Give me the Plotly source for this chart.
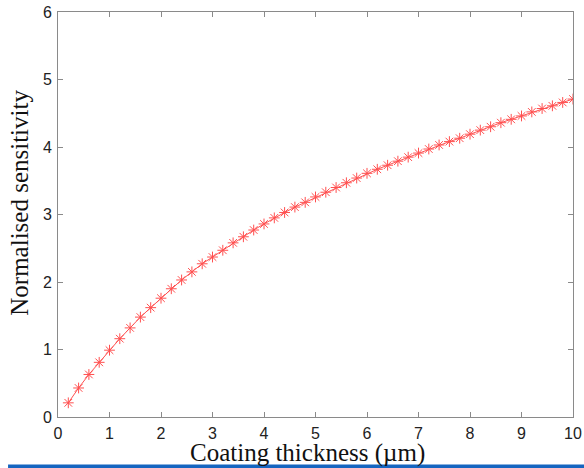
import plotly.graph_objects as go

thickness_um = [0.2, 0.4, 0.6, 0.8, 1.0, 1.2, 1.4, 1.6, 1.8, 2.0,
                2.2, 2.4, 2.6, 2.8, 3.0, 3.2, 3.4, 3.6, 3.8, 4.0,
                4.2, 4.4, 4.6, 4.8, 5.0, 5.2, 5.4, 5.6, 5.8, 6.0,
                6.2, 6.4, 6.6, 6.8, 7.0, 7.2, 7.4, 7.6, 7.8, 8.0,
                8.2, 8.4, 8.6, 8.8, 9.0, 9.2, 9.4, 9.6, 9.8, 10.0]
sensitivity = [0.21, 0.43, 0.63, 0.81, 0.99, 1.16, 1.32, 1.48, 1.62, 1.76,
               1.90, 2.03, 2.15, 2.27, 2.37, 2.47, 2.58, 2.67, 2.77, 2.86,
               2.95, 3.03, 3.11, 3.18, 3.26, 3.33, 3.40, 3.47, 3.54, 3.61,
               3.67, 3.73, 3.79, 3.85, 3.91, 3.97, 4.03, 4.08, 4.13, 4.19,
               4.25, 4.30, 4.36, 4.41, 4.46, 4.52, 4.57, 4.61, 4.66, 4.71]

x_ticks = [0, 1, 2, 3, 4, 5, 6, 7, 8, 9, 10]
y_ticks = [0, 1, 2, 3, 4, 5, 6]

fig = go.Figure()
fig.add_trace(go.Scatter(
    x=thickness_um, y=sensitivity, mode="lines+markers",
    line=dict(color="rgb(255,80,80)", width=1),
    marker=dict(symbol="asterisk-open", size=9,
                line=dict(color="rgb(255,40,40)", width=1)),
    showlegend=False,
))

axis_common = dict(
    showline=True, linecolor="#8a8a8a", linewidth=1, mirror="ticks",
    ticks="inside", ticklen=5, tickcolor="#8a8a8a", tickwidth=1,
    showgrid=False, zeroline=False, automargin=False,
    tickfont=dict(family="Liberation Sans, Arial, sans-serif", size=16, color="#222"),
)

fig.update_layout(
    width=584, height=468,
    margin=dict(l=58, r=11, t=12, b=51),
    paper_bgcolor="white", plot_bgcolor="white",
    xaxis=dict(range=[0, 10], tickvals=x_ticks, ticklabelstandoff=2, **axis_common),
    yaxis=dict(range=[0, 6], tickvals=y_ticks, ticklabelstandoff=2, **axis_common),
    annotations=[
        dict(text="Coating thickness (µm)", xref="paper", yref="paper",
             x=0.485, y=-0.088, xanchor="center", yanchor="middle", showarrow=False,
             font=dict(family="Liberation Serif, Times New Roman, serif", size=25, color="#111")),
        dict(text="Normalised sensitivity", xref="paper", yref="paper",
             x=-0.075, y=0.53, xanchor="center", yanchor="middle", textangle=-90,
             showarrow=False,
             font=dict(family="Liberation Serif, Times New Roman, serif", size=25, color="#111")),
    ],
    shapes=[
        dict(type="rect", xref="paper", yref="paper",
             x0=-0.097, x1=1.03, y0=-0.1173, y1=-0.13,
             fillcolor="rgb(21,101,192)", line=dict(width=0)),
    ],
)

fig.write_html("out.html", config={"displayModeBar": False},
               post_script="document.body.style.margin='0px';")
